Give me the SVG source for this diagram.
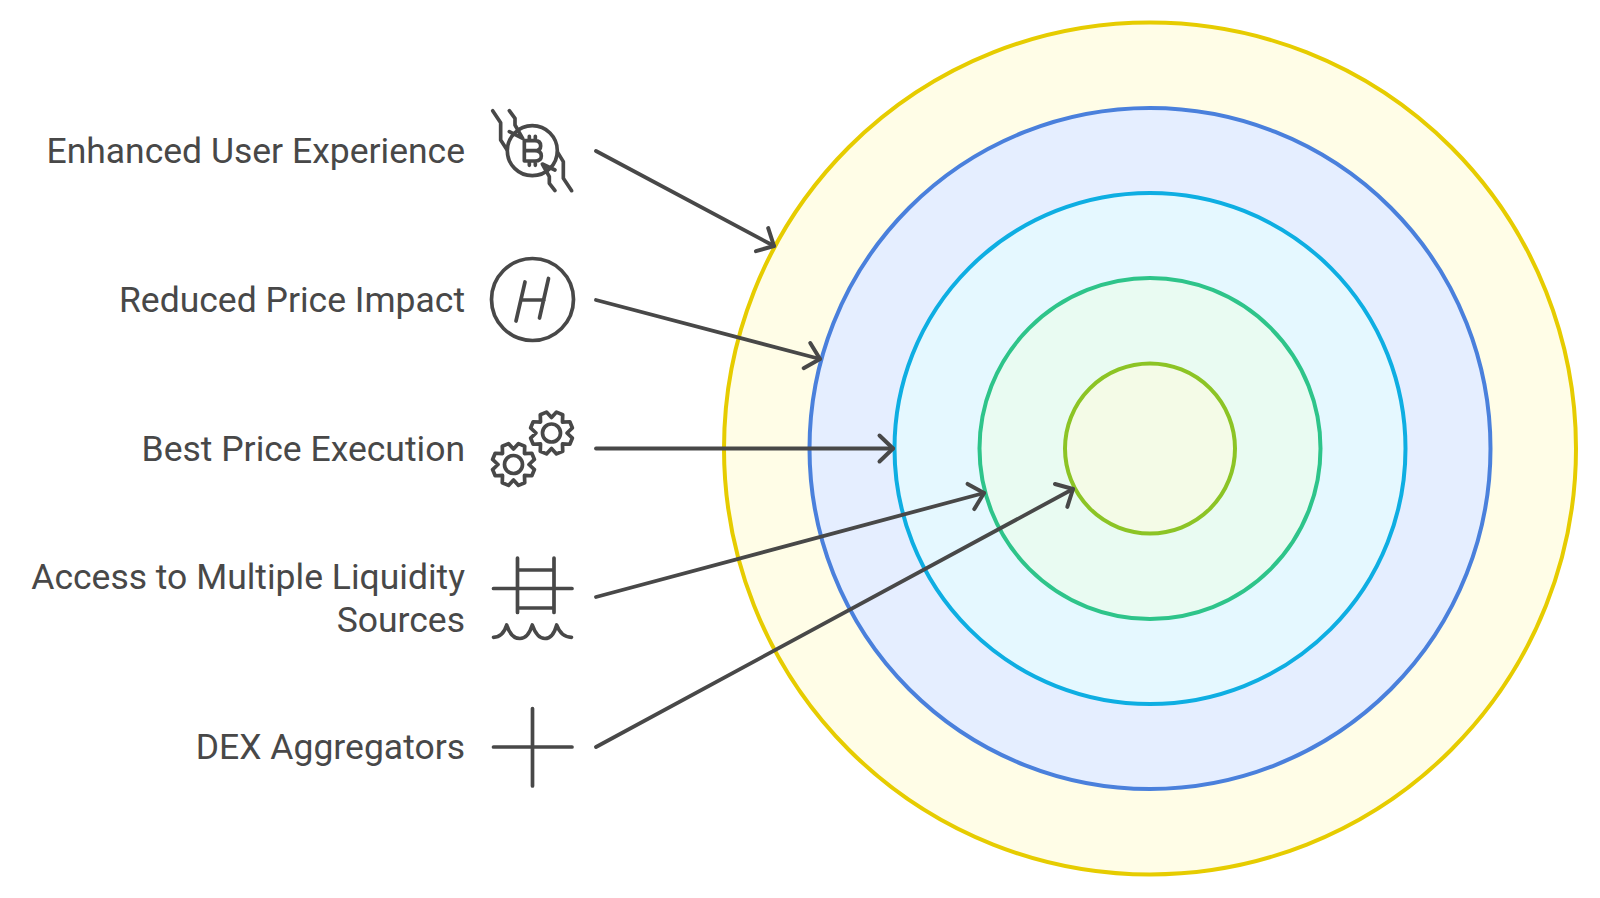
<svg xmlns="http://www.w3.org/2000/svg" width="1600" height="898" viewBox="0 0 1600 898">
<style>
.lbl{font-family:Roboto,"Liberation Sans",sans-serif;font-size:35.5px;fill:#484848;text-anchor:end}
.ring{stroke-width:4}
.ic{fill:none;stroke:#484848;stroke-width:3.7;stroke-linecap:round;stroke-linejoin:round}
.con{fill:none;stroke:#484848;stroke-width:3.8;stroke-linecap:round;marker-end:url(#ah)}
</style>
<defs>
<marker id="ah" viewBox="-16 -14 20 28" refX="0" refY="0" markerUnits="userSpaceOnUse" markerWidth="20" markerHeight="28" orient="auto" overflow="visible">
<path d="M-13.5,-13 L0,0 L-13.5,13" fill="none" stroke="#484848" stroke-width="4" stroke-linecap="round" stroke-linejoin="round"/>
</marker>
<path id="gear" d="M0,-15.500 L5.020,-20.910 L11.230,-18.330 L10.960,-10.960 L18.330,-11.230 L20.910,-5.020 L15.500,0 L20.910,5.020 L18.330,11.230 L10.960,10.960 L11.230,18.330 L5.020,20.910 L0,15.500 L-5.020,20.910 L-11.230,18.330 L-10.960,10.960 L-18.330,11.230 L-20.910,5.020 L-15.500,0 L-20.910,-5.020 L-18.330,-11.230 L-10.960,-10.960 L-11.230,-18.330 L-5.020,-20.910 Z"/>
</defs>
<rect width="1600" height="898" fill="#ffffff"/>
<g id="rings">
<circle id="ring-1" class="ring" cx="1150" cy="448.500" r="426" fill="#fffde7" stroke="#e6cc00"/>
<circle id="ring-2" class="ring" cx="1150" cy="448.500" r="340.500" fill="#e5eeff" stroke="#4a80dc"/>
<circle id="ring-3" class="ring" cx="1150" cy="448.500" r="255.500" fill="#e5f8ff" stroke="#0eaee2"/>
<circle id="ring-4" class="ring" cx="1150" cy="448.500" r="170.500" fill="#e9fbf2" stroke="#2ec48a"/>
<circle id="ring-5" class="ring" cx="1150" cy="448.500" r="85" fill="#f4fbe7" stroke="#8cc425"/>
</g>
<g id="node-1">
<text class="lbl" x="465" y="163">Enhanced User Experience</text>
<g class="ic" transform="translate(470 90) scale(.3333)" style="stroke-width:11">
<circle cx="187" cy="182" r="75"/>
<path d="M68,62 L92,98 L92,150 L110,178"/>
<path d="M118,62 L135,85 L135,105 L158,145 L118,125"/>
<path d="M305,302 L280,265 L280,215 L263,187"/>
<path d="M255,302 L238,280 L238,260 L217,222 L255,240"/>
<path d="M163,152 H195 Q212,152 212,168 Q212,182 195,182 H163 M195,182 Q214,182 214,198 Q214,213 195,213 H163 M163,152 V213 M178,139 V150 M196,139 V150 M178,215 V226 M196,215 V226"/>
</g>
</g>
<g id="node-2">
<text class="lbl" x="465" y="312">Reduced Price Impact</text>
<g class="ic">
<circle cx="532.500" cy="299.500" r="41"/>
<path d="M525,282 L516,321 M548.500,278.500 L539.500,318 M521.500,300 H544"/>
</g>
</g>
<g id="node-3">
<text class="lbl" x="465" y="461">Best Price Execution</text>
<g class="ic">
<use href="#gear" x="551.500" y="433"/>
<circle cx="551.500" cy="433" r="9"/>
<use href="#gear" x="513.500" y="464.500"/>
<circle cx="513.500" cy="464.500" r="9"/>
</g>
</g>
<g id="node-4">
<text class="lbl" x="465" y="589">Access to Multiple Liquidity</text>
<text class="lbl" x="465" y="632">Sources</text>
<g class="ic">
<path d="M517.500,558 V612.500 M554,558 V612.500 M517.500,570 H554 M517.500,608 H554 M493.500,588.500 H572"/>
<path d="M493.500,637.300 Q503,637 506.700,625 Q511,638.500 520,638.500 Q528,638.500 532.300,625 Q537,638.500 545,638.500 Q553,638.500 556.700,625 Q561,637 571.500,637.300"/>
</g>
</g>
<g id="node-5">
<text class="lbl" x="465" y="759">DEX Aggregators</text>
<g class="ic">
<path d="M532.500,708.500 V786 M493.500,747 H572"/>
</g>
</g>
<g id="connectors">
<path class="con" d="M596,151 L774,246"/>
<path class="con" d="M596,300 L820,359"/>
<path class="con" d="M596,448.500 L893,448.500"/>
<path class="con" d="M596,597 L984,493"/>
<path class="con" d="M596,747 L1073,489"/>
</g>
</svg>
